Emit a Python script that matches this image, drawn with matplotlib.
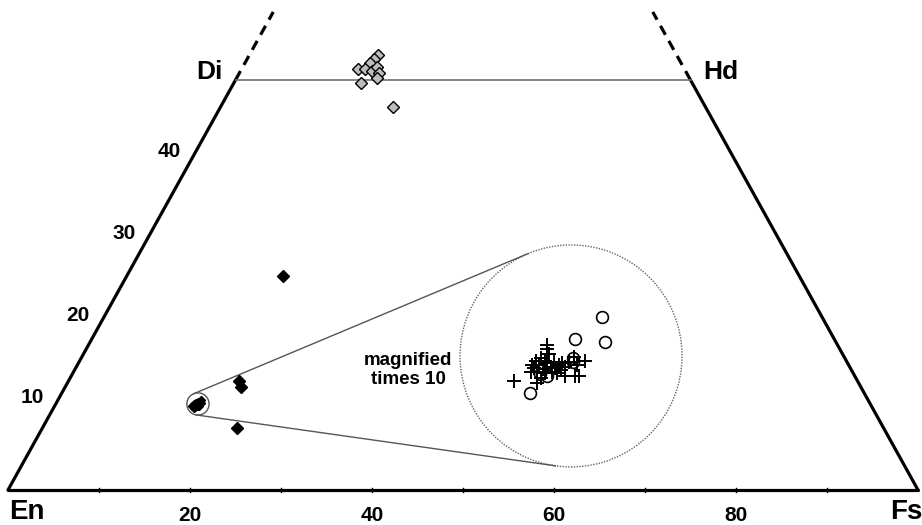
import numpy as np
import matplotlib
matplotlib.use("Agg")
import matplotlib.pyplot as plt
from matplotlib.patches import Circle

plt.rcParams['font.family'] = ['Liberation Sans', 'DejaVu Sans']

# ---------------- data (compositions, mol% Wo and Fs) ----------------
grey_wo = [53.0, 52.6, 52.1, 51.3, 51.3, 51.1, 51.6, 50.9, 50.2, 49.6, 46.7]
grey_fs = [14.2, 13.9, 13.7, 12.8, 13.6, 14.4, 14.8, 15.3, 15.4, 14.0, 19.0]

black_wo = [26.1, 13.3, 12.6, 7.6]
black_fs = [17.2, 18.7, 19.3, 21.4]

cross_wo = [10.62, 10.57, 10.51, 10.46, 10.43, 10.43, 10.38, 10.38, 10.40, 10.42,
            10.38, 10.34, 10.36, 10.33, 10.30, 10.29, 10.22, 10.16, 10.30, 10.32,
            10.36, 10.42, 10.48, 10.43, 10.38, 10.24, 10.24, 10.25, 10.19, 10.28,
            10.40, 10.34, 10.28]
cross_fs = [15.30, 15.33, 15.38, 15.31, 15.27, 15.37, 15.26, 15.33, 15.41, 15.48,
            15.55, 15.53, 15.47, 15.40, 15.28, 15.36, 15.43, 15.42, 15.52, 15.60,
            15.63, 15.64, 15.67, 15.81, 15.75, 15.69, 15.80, 15.84, 15.15, 15.58,
            15.58, 15.30, 15.45]

circ_wo = [10.96, 10.66, 10.70, 10.47, 10.42, 10.24, 10.04, 10.27]
circ_fs = [15.74, 15.92, 15.57, 15.66, 15.69, 15.49, 15.40, 15.40]

bottom_ticks = [20, 40, 60, 80]
side_ticks = [10, 20, 30, 40]
magnification = 10

# ---------------- geometry ----------------
K = 8.2 / 9.1          # vertical stretch of the diagram
PX = 9.1               # pixels per unit


def tern(wo, fs):
    wo = np.asarray(wo, float)
    fs = np.asarray(fs, float)
    return fs + wo / 2.0, wo * K


fig = plt.figure(figsize=(9.22, 5.25), dpi=100)
ax = fig.add_axes([0, 0, 1, 1])
ax.set_xlim(-8 / PX, 914 / PX)
ax.set_ylim(-35 / PX, 490 / PX)
ax.axis('off')

# triangle / quadrilateral outline
en = tern(0, 0)
fs_ = tern(0, 100)
di = tern(50, 0)
hd = tern(50, 50)
lw_edge = 2.3
ax.plot([en[0], fs_[0]], [en[1], fs_[1]], color='black', lw=lw_edge, solid_capstyle='round')
ax.plot([en[0], di[0]], [en[1], di[1]], color='black', lw=lw_edge, solid_capstyle='round')
ax.plot([fs_[0], hd[0]], [fs_[1], hd[1]], color='black', lw=lw_edge, solid_capstyle='round')
top_l = tern(58.3, 0)
top_r = tern(58.3, 41.7)
ax.plot([di[0], top_l[0]], [di[1], top_l[1]], color='black', lw=lw_edge, ls=(0, (3.2, 2.2)))
ax.plot([hd[0], top_r[0]], [hd[1], top_r[1]], color='black', lw=lw_edge, ls=(0, (3.2, 2.2)))
ax.plot([di[0], hd[0]], [di[1], hd[1]], color='#707070', lw=1.2)

# baseline small ticks
for f in range(10, 100, 10):
    x, y = tern(0, f)
    ax.plot([x, x], [y - 0.2, y + 0.25], color='black', lw=1.0)

# labels
bold = dict(fontweight='bold', color='black')
for f in bottom_ticks:
    x, y = tern(0, f)
    ax.annotate(str(f), (x, y), xytext=(0, -18.5), textcoords='offset points',
                ha='center', va='center', fontsize=15, **bold)
for w in side_ticks:
    x, y = tern(w, 0)
    ax.annotate(str(w), (x, y), xytext=(-15, 7.8), textcoords='offset points',
                ha='center', va='center', fontsize=15, **bold)
ax.annotate('En', en, xytext=(13.5, -16), textcoords='offset points',
            ha='center', va='center', fontsize=20, **bold)
ax.annotate('Fs', fs_, xytext=(-8.5, -16), textcoords='offset points',
            ha='center', va='center', fontsize=20, **bold)
ax.annotate('Di', di, xytext=(-18.5, 5.8), textcoords='offset points',
            ha='center', va='center', fontsize=19, **bold)
ax.annotate('Hd', hd, xytext=(21.5, 5.8), textcoords='offset points',
            ha='center', va='center', fontsize=19, **bold)

# magnifier
small_c = np.array(tern(10.49, 15.63))
big_c = np.array(tern(16.35, 53.70))
r_big = 111 / PX
r_small = r_big / magnification

ax.add_patch(Circle(small_c, r_small, fill=False, ec='#555555', lw=1.0, zorder=2))
ax.add_patch(Circle(big_c, r_big, fill=False, ec='#666666', lw=1.0, ls=(0, (1, 1)), zorder=2))

d = big_c - small_c
L = np.hypot(*d)
u = d / L
perp = np.array([-u[1], u[0]])
cb = (r_small - r_big) / L
sb = np.sqrt(1 - cb ** 2)
for s in (1, -1):
    n = cb * u + s * sb * perp
    p1 = small_c + r_small * n
    p2 = big_c + r_big * n
    ax.plot([p1[0], p2[0]], [p1[1], p2[1]], color='#555555', lw=1.0, zorder=2)

ax.text(43.96, 13.2, 'magnified\ntimes 10', ha='center', va='center',
        fontsize=13.5, linespacing=1.2, **bold)

# points
gx, gy = tern(grey_wo, grey_fs)
ax.plot(gx, gy, 'D', ms=6, mfc='#bdbdbd', mec='black', mew=1.0, ls='none', zorder=4)
bx, by = tern(black_wo, black_fs)
ax.plot(bx, by, 'D', ms=6, color='black', ls='none', zorder=4)

cx, cy = tern(cross_wo, cross_fs)
ox, oy = tern(circ_wo, circ_fs)
# real positions (small cluster)
ax.plot(np.r_[cx, ox], np.r_[cy, oy], 'D', ms=4, color='black', ls='none', zorder=4)
# magnified positions
mcx = big_c[0] + magnification * (cx - small_c[0])
mcy = big_c[1] + magnification * (cy - small_c[1])
mox = big_c[0] + magnification * (ox - small_c[0])
moy = big_c[1] + magnification * (oy - small_c[1])
ax.plot(mox, moy, 'o', ms=8.5, mfc='none', mec='black', mew=1.2, ls='none', zorder=4)
ax.plot(mcx, mcy, '+', ms=10, color='black', mew=1.4, ls='none', zorder=5)

fig.savefig('out.png', dpi=100)
